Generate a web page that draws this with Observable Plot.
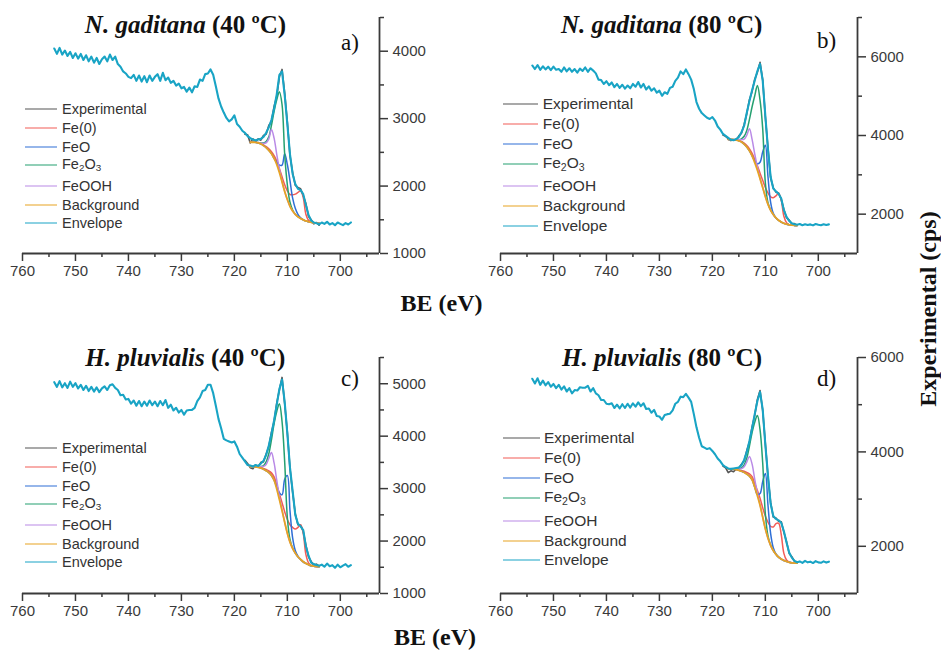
<!DOCTYPE html>
<html>
<head>
<meta charset="utf-8">
<script src="https://cdn.jsdelivr.net/npm/d3@7"></script>
<script src="https://cdn.jsdelivr.net/npm/@observablehq/plot@0.6"></script>
<style>
  body { margin: 0; background: #fff; }
  #fig { position: relative; width: 941px; height: 651px; overflow: hidden; background: #fff;
         font-family: "Liberation Sans", Arial, sans-serif; color: #333; }
  .panel { position: absolute; }
  .title { position: absolute; transform: translate(-50%, -50%); white-space: nowrap;
           font-family: "Liberation Serif", "Times New Roman", serif; font-weight: bold;
           font-size: 25px; color: #111; line-height: 1; }
  .tag { position: absolute; transform: translate(-50%, -50%); line-height: 1;
         font-family: "Liberation Serif", "Times New Roman", serif; font-size: 23px; color: #111; }
  .axlab { position: absolute; transform: translate(-50%, -50%); white-space: nowrap; line-height: 1;
           font-family: "Liberation Serif", "Times New Roman", serif; font-weight: bold; font-size: 24px; color: #111; }
  .ylab { transform: translate(-50%, -50%) rotate(-90deg); }
  .lg-row { position: absolute; transform: translateY(-50%); line-height: 1; white-space: nowrap; color: #333; }
  .lg-row sub { font-size: 0.68em; vertical-align: -0.25em; }
  .lg-line { position: absolute; height: 0; border-top: 1.8px solid; transform: translateY(-50%); }
</style>
</head>
<body>
<div id="fig"></div>
<script>
// Binding-energy grids (eV): full survey window, fit window, experimental points over the fit window
const BE_FULL = d3.range(754, 697.75, -0.5);   // 754 → 698
const BE_FIT  = d3.range(717, 703.75, -0.5);   // 717 → 704
const BE_EXP  = d3.range(718, 703.75, -0.5);   // 718 → 704

const X_MAJOR = [760, 750, 740, 730, 720, 710, 700];
const X_MINOR = [755, 745, 735, 725, 715, 705, 695];

const SERIES = ["Experimental", "Fe(0)", "FeO", "Fe2O3", "FeOOH", "Background", "Envelope"];
const SERIES_HTML = ["Experimental", "Fe(0)", "FeO", "Fe<sub>2</sub>O<sub>3</sub>", "FeOOH", "Background", "Envelope"];
const COLORS = ["#555555", "#f25c57", "#2f6fd6", "#25a070", "#b98ae6", "#e7a323", "#19a4c5"];

const TITLES = [
  "<i>N. gaditana</i> (40 ºC)", "<i>N. gaditana</i> (80 ºC)",
  "<i>H. pluvialis</i> (40 ºC)", "<i>H. pluvialis</i> (80 ºC)"
];
const TAGS = ["a)", "b)", "c)", "d)"];

// ---- a) N. gaditana 40 ºC  (cps) ----
const ENV_A = [
  4040,3960,4050,3950,4010,3930,3990,3900,3970,3890,   // 754 – 749.5
  3960,3870,3940,3850,3920,3830,3900,3810,3880,3920,   // 749 – 744.5
  3850,3950,3870,3920,3810,3770,3700,3670,3620,3600,   // 744 – 739.5
  3650,3560,3640,3550,3630,3540,3640,3560,3620,3660,   // 739 – 734.5
  3560,3680,3570,3610,3530,3560,3490,3520,3450,3470,   // 734 – 729.5
  3400,3460,3390,3480,3470,3580,3560,3660,3670,3730,   // 729 – 724.5
  3650,3480,3300,3180,3090,3010,2960,2990,3050,2920,   // 724 – 719.5
  2880,2820,2790,2740,2710,2690,2680,2690,2700,2730,   // 719 – 714.5
  2790,2870,2980,3150,3360,3650,3700,3350,2920,2470,   // 714 – 709.5
  2180,2030,1960,1940,1880,1720,1570,1490,1460,1450,   // 709 – 704.5
  1430,1460,1440,1470,1430,1450,1420,1460,1440,1420,   // 704 – 699.5
  1450,1430,1460                                       // 699 – 698
];
const EXP_A = [2770,2760,2640,2700,2660,2700,2680,2750,2770,2900,2960,3180,3330,3620,3730,3380,2950,2450,2200,2010,1980,1960,1860,1740,1550,1500,1440,1460,1420];
const BG_A    = [2650,2650,2648,2640,2625,2600,2570,2530,2480,2410,2320,2200,2060,1920,1800,1700,1630,1580,1545,1520,1500,1483,1472,1462,1455,1450,1448];
// peak intensities above the background
const FE0_A   = [0,0,0,2,5,10,15,22,30,40,50,62,78,100,130,175,240,300,360,410,330,100,20,3,0,0,0];
const FEO_A   = [0,0,0,0,0,0,0,0,0,0,30,110,250,560,520,380,190,90,35,10,0,0,0,0,0,0,0];
const FE2O3_A = [0,0,0,5,15,40,90,200,420,700,960,1200,1150,550,220,60,15,3,0,0,0,0,0,0,0,0,0];
const FEOOH_A = [0,0,0,5,12,30,70,170,360,300,150,50,10,0,0,0,0,0,0,0,0,0,0,0,0,0,0];

// ---- b) N. gaditana 80 ºC ----
const ENV_B = [
  5780,5690,5790,5670,5760,5680,5750,5660,5750,5670,
  5690,5620,5730,5630,5710,5620,5690,5600,5700,5640,
  5730,5620,5710,5650,5580,5420,5410,5310,5380,5280,
  5350,5230,5310,5210,5290,5190,5270,5200,5310,5240,
  5360,5220,5310,5170,5250,5140,5200,5090,5140,5010,
  5100,5060,5210,5240,5390,5470,5630,5560,5680,5560,
  5420,5180,4850,4680,4570,4510,4450,4420,4470,4380,
  4230,4150,4040,3990,3940,3890,3880,3910,3960,4080,
  4250,4580,4880,5150,5400,5640,5820,5400,4500,3650,
  2950,2650,2580,2520,2400,2100,1930,1830,1770,1745,
  1730,1750,1720,1745,1725,1740,1715,1750,1730,1720,
  1745,1725,1740
];
const EXP_B = [4010,3980,3920,3870,3900,3880,3990,4060,4280,4560,4910,5120,5430,5610,5860,5420,4470,3680,2920,2670,2560,2540,2380,2120,1910,1850,1750,1760,1720];
const BG_B    = [3900,3900,3895,3885,3865,3835,3780,3710,3610,3480,3310,3120,2900,2680,2450,2250,2100,1990,1905,1845,1800,1765,1745,1730,1720,1715,1712];
const FE0_B   = [0,0,0,3,8,15,25,35,50,65,85,110,140,180,230,290,340,430,560,680,560,180,40,5,0,0,0];
const FEO_B   = [0,0,0,0,0,0,0,0,0,0,40,160,420,900,1300,700,200,30,0,0,0,0,0,0,0,0,0];
const FE2O3_B = [0,0,0,10,30,80,200,420,800,1250,1700,2150,2000,1500,350,40,5,0,0,0,0,0,0,0,0,0,0];
const FEOOH_B = [0,0,0,10,25,60,130,300,560,420,220,80,20,0,0,0,0,0,0,0,0,0,0,0,0,0,0];

// ---- c) H. pluvialis 40 ºC ----
const ENV_C = [
  5030,4940,5050,4930,5010,4920,5040,4940,5010,4910,
  4980,4880,4960,4860,4940,4850,4930,4840,4910,4950,
  4880,4970,4990,4920,4880,4780,4790,4700,4710,4620,
  4680,4580,4670,4570,4660,4580,4680,4590,4660,4570,
  4670,4590,4690,4540,4600,4490,4540,4450,4500,4410,
  4490,4500,4500,4540,4670,4740,4860,4880,4980,4980,
  4820,4580,4330,4150,3950,3920,3900,3880,3900,3800,
  3660,3590,3520,3450,3440,3420,3450,3430,3480,3530,
  3640,3820,4040,4300,4600,4900,5080,4650,4050,3400,
  2950,2500,2330,2280,2210,1900,1720,1590,1560,1545,
  1530,1550,1510,1570,1520,1540,1490,1550,1500,1530,
  1560,1510,1540
];
const EXP_C = [3540,3480,3400,3380,3450,3410,3500,3510,3660,3800,4070,4280,4630,4880,5120,4620,4080,3380,2930,2520,2310,2300,2190,1920,1700,1610,1540,1560,1520];
const BG_C    = [3420,3420,3415,3405,3390,3370,3340,3305,3250,3160,2990,2790,2580,2360,2150,1980,1860,1770,1700,1650,1605,1575,1550,1530,1520,1515,1512];
const FE0_C   = [0,0,0,3,8,15,25,35,50,65,85,110,150,200,260,330,400,460,560,660,540,170,35,5,0,0,0];
const FEO_C   = [0,0,0,0,0,0,0,0,0,0,40,130,300,820,1100,600,200,50,10,0,0,0,0,0,0,0,0];
const FE2O3_C = [0,0,0,10,30,70,170,360,680,1080,1480,1830,1700,1150,300,50,5,0,0,0,0,0,0,0,0,0,0];
const FEOOH_C = [0,0,0,10,25,55,120,270,440,330,170,60,15,0,0,0,0,0,0,0,0,0,0,0,0,0,0];

// ---- d) H. pluvialis 80 ºC ----
const ENV_D = [
  5550,5450,5560,5420,5510,5410,5480,5380,5440,5350,
  5420,5320,5390,5280,5350,5240,5310,5300,5370,5360,
  5360,5400,5280,5350,5240,5200,5100,5100,5020,5010,
  5030,4930,5000,4920,5010,4930,5020,4940,5030,4960,
  5050,4970,5030,4910,4920,4830,4890,4760,4750,4680,
  4780,4800,4810,4880,5020,5060,5170,5160,5230,5150,
  5060,4800,4520,4300,4120,4090,4060,4080,4020,3950,
  3860,3800,3720,3680,3650,3640,3650,3660,3670,3720,
  3830,4000,4230,4500,4800,5080,5270,4900,4150,3500,
  2900,2640,2580,2550,2500,2320,2080,1870,1760,1690,
  1660,1680,1650,1690,1660,1675,1645,1685,1660,1650,
  1680,1655,1675
];
const EXP_D = [3700,3660,3560,3600,3580,3640,3660,3740,3810,4030,4210,4530,4780,5110,5300,4880,4180,3470,2930,2620,2600,2530,2520,2300,2100,1850,1780,1680,1670];
const BG_D    = [3640,3640,3635,3625,3610,3590,3565,3530,3485,3410,3250,3070,2870,2620,2370,2170,2020,1910,1830,1770,1730,1700,1680,1660,1650,1645,1642];
const FE0_D   = [0,0,0,3,8,15,25,35,50,65,85,110,150,200,270,340,400,500,650,720,520,150,30,5,0,0,0];
const FEO_D   = [0,0,0,0,0,0,0,0,0,0,0,30,250,750,1170,700,250,60,10,0,0,0,0,0,0,0,0];
const FE2O3_D = [0,0,0,10,30,70,160,340,640,1000,1380,1700,1600,1150,320,50,5,0,0,0,0,0,0,0,0,0,0];
const FEOOH_D = [0,0,0,10,25,55,120,260,420,330,170,60,15,0,0,0,0,0,0,0,0,0,0,0,0,0,0];

// y-axis extents and ticks per panel
const Y_DOMAINS = [[1000, 4500], [1000, 7000], [1000, 5500], [1000, 6000]];
const Y_MAJOR = [[1000, 2000, 3000, 4000], [2000, 4000, 6000], [1000, 2000, 3000, 4000, 5000], [2000, 4000, 6000]];
const Y_MINOR = [[1500, 2500, 3500, 4500], [3000, 5000, 7000], [1500, 2500, 3500, 4500, 5500], [3000, 5000]];

const X_END = 692.6;

const panels = [
  { env: ENV_A, exp: EXP_A, bg: BG_A, comps: [FE0_A, FEO_A, FE2O3_A, FEOOH_A] },
  { env: ENV_B, exp: EXP_B, bg: BG_B, comps: [FE0_B, FEO_B, FE2O3_B, FEOOH_B] },
  { env: ENV_C, exp: EXP_C, bg: BG_C, comps: [FE0_C, FEO_C, FE2O3_C, FEOOH_C] },
  { env: ENV_D, exp: EXP_D, bg: BG_D, comps: [FE0_D, FEO_D, FE2O3_D, FEOOH_D] }
];

// frame placement of each panel's svg
const LAYOUT = [
  { left: 0,   top: 0,   width: 470, height: 290, mL: 22, mR: 91, mT: 17, mB: 37 },
  { left: 470, top: 0,   width: 470, height: 290, mL: 30, mR: 83, mT: 17, mB: 37 },
  { left: 0,   top: 320, width: 470, height: 300, mL: 22, mR: 91, mT: 37, mB: 27 },
  { left: 470, top: 320, width: 470, height: 300, mL: 30, mR: 83, mT: 37, mB: 27 }
];

const fig = document.getElementById("fig");
const AX = "#3a3a3a";

panels.forEach((p, k) => {
  const L = LAYOUT[k];
  const envRows = BE_FULL.map((x, i) => ({ x, y: p.env[i] }));
  const expRows = BE_EXP.map((x, i) => ({ x, y: p.exp[i] }));
  const bgRows = BE_FIT.map((x, i) => ({ x, y: p.bg[i] }));
  const compRows = p.comps.map(c => BE_FIT.map((x, i) => ({ x, y: p.bg[i] + c[i] })));

  const fit = { x: "x", y: "y", curve: "catmull-rom", strokeWidth: 1.5 };
  const svg = Plot.plot({
    width: L.width, height: L.height,
    marginLeft: L.mL, marginRight: L.mR, marginTop: L.mT, marginBottom: L.mB,
    x: { domain: [760, X_END], label: null },
    y: { domain: Y_DOMAINS[k], label: null },
    style: { fontFamily: '"Liberation Sans", Arial, sans-serif', fontSize: "15px", color: AX, background: "transparent", overflow: "visible" },
    marks: [
      Plot.line(expRows, { x: "x", y: "y", stroke: COLORS[0], strokeWidth: 1.6 }),
      Plot.line(compRows[0], { ...fit, stroke: COLORS[1] }),
      Plot.line(compRows[1], { ...fit, stroke: COLORS[2] }),
      Plot.line(compRows[2], { ...fit, stroke: COLORS[3] }),
      Plot.line(compRows[3], { ...fit, stroke: COLORS[4] }),
      Plot.line(bgRows, { ...fit, stroke: COLORS[5], strokeWidth: 1.8 }),
      Plot.line(envRows, { x: "x", y: "y", stroke: COLORS[6], strokeWidth: 2.1, strokeLinejoin: "round" }),
      Plot.ruleY([Y_DOMAINS[k][0]], { stroke: AX, strokeWidth: 1.8 }),
      Plot.ruleX([X_END], { stroke: AX, strokeWidth: 1.8 }),
      Plot.axisX(X_MAJOR, { tickSize: 8, tickPadding: 4, tickFormat: d => String(d), color: AX, strokeWidth: 1.5, fontSize: 15, label: null }),
      Plot.axisX(X_MINOR, { tickSize: 4, tickFormat: () => "", color: AX, strokeWidth: 1.5, label: null }),
      Plot.axisY(Y_MAJOR[k], { anchor: "right", tickSize: 8, tickPadding: 5, tickFormat: d => String(d), color: AX, strokeWidth: 1.5, fontSize: 15, label: null }),
      Plot.axisY(Y_MINOR[k], { anchor: "right", tickSize: 4, tickFormat: () => "", color: AX, strokeWidth: 1.5, label: null })
    ]
  });
  const holder = document.createElement("div");
  holder.className = "panel";
  holder.style.left = L.left + "px";
  holder.style.top = L.top + "px";
  holder.appendChild(svg);
  fig.appendChild(holder);
});

// titles, panel tags and shared axis labels
const TITLE_POS = [[185.5, 24], [661.7, 24], [185.3, 357], [662, 357]];
const TAG_POS = [[350, 42], [826.7, 40], [350, 378], [826.7, 378]];
TITLES.forEach((t, k) => {
  const d = document.createElement("div");
  d.className = "title"; d.innerHTML = t;
  d.style.left = TITLE_POS[k][0] + "px"; d.style.top = TITLE_POS[k][1] + "px";
  fig.appendChild(d);
  const g = document.createElement("div");
  g.className = "tag"; g.textContent = TAGS[k];
  g.style.left = TAG_POS[k][0] + "px"; g.style.top = TAG_POS[k][1] + "px";
  fig.appendChild(g);
});
[[441.5, 303], [435, 637]].forEach(([x, y]) => {
  const d = document.createElement("div");
  d.className = "axlab"; d.textContent = "BE (eV)";
  d.style.left = x + "px"; d.style.top = y + "px";
  fig.appendChild(d);
});
{
  const d = document.createElement("div");
  d.className = "axlab ylab"; d.textContent = "Experimental (cps)";
  d.style.left = "928px"; d.style.top = "309px";
  fig.appendChild(d);
}

// legends
const LEGENDS = [
  { x0: 25, x1: 57, tx: 62, y0: 109.3, step: 18.6, gap: 2.3, font: 14.5 },
  { x0: 502.7, x1: 538.3, tx: 542.7, y0: 104.3, step: 19.9, gap: 2.5, font: 15.5 },
  { x0: 25, x1: 57, tx: 62, y0: 448.3, step: 18.6, gap: 2.3, font: 14.5 },
  { x0: 503.3, x1: 540, tx: 544, y0: 438.3, step: 19.8, gap: 3.3, font: 15.5 }
];
LEGENDS.forEach(lg => {
  SERIES.forEach((name, i) => {
    const y = lg.y0 + i * lg.step + (i >= 4 ? lg.gap : 0);
    const line = document.createElement("div");
    line.className = "lg-line";
    line.style.left = lg.x0 + "px"; line.style.width = (lg.x1 - lg.x0) + "px";
    line.style.top = y + "px"; line.style.borderTopColor = COLORS[i];
    fig.appendChild(line);
    const t = document.createElement("div");
    t.className = "lg-row"; t.innerHTML = SERIES_HTML[i];
    t.style.left = lg.tx + "px"; t.style.top = y + "px"; t.style.fontSize = lg.font + "px";
    fig.appendChild(t);
  });
});
</script>
</body>
</html>
